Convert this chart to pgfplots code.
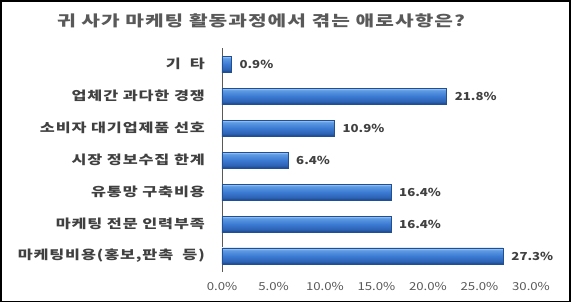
\documentclass[border=0pt]{standalone}
\usepackage{pgfplots}
\pgfplotsset{compat=1.18}
\usepackage{fontspec}
\setmainfont{Noto Sans CJK KR}[FakeStretch=1.2]
\newfontfamily\titlefont{Noto Sans CJK KR}[FakeStretch=1.35, LetterSpace=7]
\newfontfamily\labelfont{Noto Sans CJK KR}[FakeStretch=1.3, LetterSpace=7]
\definecolor{txt}{HTML}{404040}
\definecolor{tick}{HTML}{595959}
\definecolor{btop}{HTML}{B2D3F8}
\definecolor{blight}{HTML}{5F9BE3}
\definecolor{bmid}{HTML}{3C7BD3}
\definecolor{bdark}{HTML}{2D64B5}
\definecolor{bbot}{HTML}{1A4588}
\definecolor{bedge}{HTML}{214F94}
\pgfdeclareverticalshading{barshade}{100bp}{color(0bp)=(bbot); color(25bp)=(bbot); color(33bp)=(bdark); color(50bp)=(bmid); color(68bp)=(blight); color(75bp)=(btop); color(100bp)=(btop)}
\begin{document}
\begin{tikzpicture}
\useasboundingbox (0,0) rectangle (571pt,303pt);
\draw[black, line width=1.5pt] (1pt,1.5pt) rectangle (570pt,302pt);
\node[font=\titlefont\fontsize{15pt}{17pt}\selectfont\bfseries, text=tick] at (261pt,282pt) {귀 사가 마케팅 활동과정에서 겪는 애로사항은?};
\begin{axis}[
  at={(222pt,31pt)}, anchor=south west,
  scale only axis, width=309pt, height=224pt,
  xbar, bar width=16pt, bar shift=0pt,
  xmin=0, xmax=30, ymin=-0.5, ymax=6.5,
  axis lines*=left,
  x axis line style={draw=none},
  y axis line style={draw=gray!70!black, line width=0.8pt},
  xtick={0,5,...,30},
  ytick={0,...,6},
  yticklabels={마케팅비용(홍보{,}판촉\ \ 등),마케팅 전문 인력부족,유통망 구축비용,시장 정보수집 한계,소비자 대기업제품 선호,업체간 과다한 경쟁,기\hspace{9pt}타},
  major tick length=0pt,
  /pgf/number format/assume math mode=true,
  xticklabel={\pgfmathprintnumber[fixed,precision=1,fixed zerofill]{\tick}\%},
  xticklabel style={font=\fontsize{11pt}{13pt}\selectfont, text=tick, inner sep=0pt, yshift=-10pt},
  yticklabel style={font=\labelfont\fontsize{12.5pt}{14pt}\selectfont\bfseries, text=txt, inner sep=0pt, xshift=-17pt},
  nodes near coords={\pgfmathprintnumber[fixed,precision=1,fixed zerofill]{\pgfplotspointmeta}\%},
  nodes near coords style={font=\fontsize{11pt}{13pt}\selectfont\bfseries, text=txt, inner sep=0pt, xshift=8pt},
  mybar/.style={draw=bedge, line width=0.6pt, shading=barshade},
  clip=false,
]
\addplot[mybar] coordinates {(27.3,0)};
\addplot[mybar] coordinates {(16.4,1)};
\addplot[mybar] coordinates {(16.4,2)};
\addplot[mybar] coordinates {(6.4,3)};
\addplot[mybar] coordinates {(10.9,4)};
\addplot[mybar] coordinates {(21.8,5)};
\addplot[mybar] coordinates {(0.9,6)};
\end{axis}
\end{tikzpicture}
\end{document}
